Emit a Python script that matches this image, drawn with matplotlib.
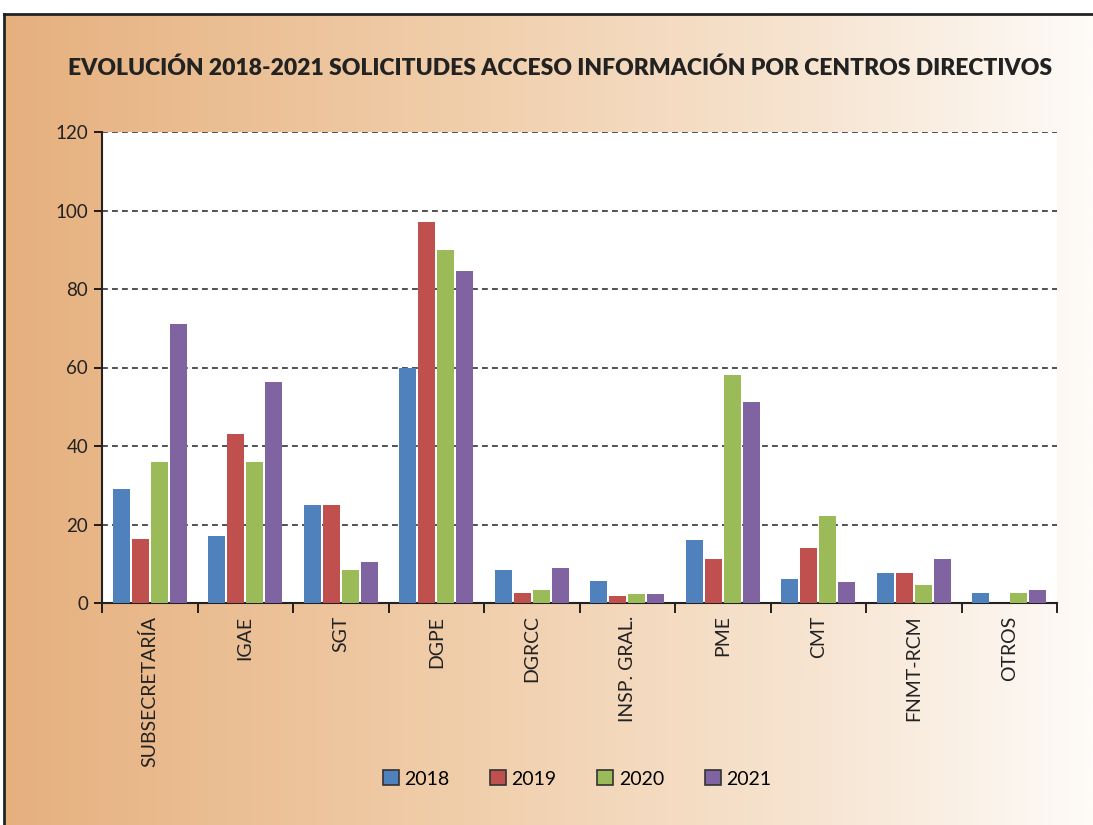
import numpy as np
import matplotlib
matplotlib.use("Agg")
import matplotlib.pyplot as plt
from matplotlib.colors import LinearSegmentedColormap

categories = ["SUBSECRETARÍA", "IGAE", "SGT", "DGPE", "DGRCC", "INSP. GRAL.",
              "PME", "CMT", "FNMT-RCM", "OTROS"]
years = ["2018", "2019", "2020", "2021"]
v2018 = [29, 17, 25, 60, 8.5, 5.5, 16, 6, 7.7, 2.6]
v2019 = [16.4, 43, 25, 97, 2.6, 1.9, 11.3, 14, 7.7, 0]
v2020 = [36, 36, 8.5, 90, 3.4, 2.4, 58, 22.2, 4.7, 2.6]
v2021 = [71, 56.4, 10.5, 84.6, 9, 2.4, 51.3, 5.4, 11.3, 3.4]
series = [v2018, v2019, v2020, v2021]
colors = ["#4F81BD", "#C0504D", "#9BBB59", "#8064A2"]
yticks = [0, 20, 40, 60, 80, 100, 120]
title = "EVOLUCIÓN 2018-2021 SOLICITUDES ACCESO INFORMACIÓN POR CENTROS DIRECTIVOS"

plt.rcParams['font.family'] = ['Lato', 'DejaVu Sans']

W, H = 1093, 825
fig = plt.figure(figsize=(W / 100, H / 100), dpi=100)
fig.patch.set_facecolor("white")

# background gradient panel with frame
bg = fig.add_axes([4 / W, 0, 1 - 4 / W, 1 - 14 / H])
cmap = LinearSegmentedColormap.from_list("bg", [
    (0.0, (230/255, 176/255, 126/255)),
    (0.45, (241/255, 208/255, 174/255)),
    (0.75, (247/255, 229/255, 210/255)),
    (1.0, (254/255, 251/255, 248/255))])
grad = np.linspace(0, 1, 512)[None, :]
bg.imshow(grad, aspect="auto", cmap=cmap, extent=[0, 1, 0, 1])
bg.set_xlim(0, 1); bg.set_ylim(0, 1)
bg.set_xticks([]); bg.set_yticks([])
for s in ["right", "bottom"]:
    bg.spines[s].set_visible(False)
for s in ["left", "top"]:
    bg.spines[s].set_linewidth(2)
    bg.spines[s].set_color("#222222")

ax = fig.add_axes([102 / W, 1 - 603 / H, (1057 - 102) / W, (603 - 132) / H])
ax.set_facecolor("white")
x = np.arange(len(categories))
offsets = [-0.3, -0.1, 0.1, 0.3]
for vals, c, off, yr in zip(series, colors, offsets, years):
    ax.bar(x + off, vals, width=0.18, color=c, label=yr, zorder=3)

ax.set_xlim(-0.5, len(categories) - 0.5)
ax.set_ylim(0, 120)
ax.set_yticks(yticks)
ax.set_yticklabels([str(t) for t in yticks], fontsize=13.5, color="#222222")
ax.tick_params(axis="y", length=6, width=1.2, direction="out", pad=4)
ax.yaxis.grid(True, linestyle=(0, (3.5, 2.5)), color="#333333", linewidth=1.2, zorder=1)
ax.set_axisbelow(True)

ax.set_xticks(np.arange(-0.5, len(categories), 1.0))
ax.set_xticklabels([])
ax.tick_params(axis="x", which="major", length=7, width=1.2, direction="out")
ax.set_xticks(x, minor=True)
ax.set_xticklabels(categories, minor=True, rotation=90, fontsize=14, color="#222222",
                   va="top", ha="center")
ax.tick_params(axis="x", which="minor", length=0, pad=9)

for s in ["top", "right"]:
    ax.spines[s].set_visible(False)
for s in ["left", "bottom"]:
    ax.spines[s].set_linewidth(1.5)
    ax.spines[s].set_color("#222222")

fig.text(560 / W, 1 - 68 / H, title, ha="center", va="center",
         fontsize=16.5, fontweight="heavy", color="#222222")

handles, labels = ax.get_legend_handles_labels()
leg = fig.legend(handles, labels, loc="center", bbox_to_anchor=(577 / W, 1 - 779 / H),
                 ncol=4, frameon=False, fontsize=14, handlelength=0.82, handleheight=0.82,
                 columnspacing=2.1, handletextpad=0.28)
for h in leg.legend_handles:
    h.set_edgecolor("#333333")
    h.set_linewidth(1.2)

fig.savefig("out.png", dpi=100)
